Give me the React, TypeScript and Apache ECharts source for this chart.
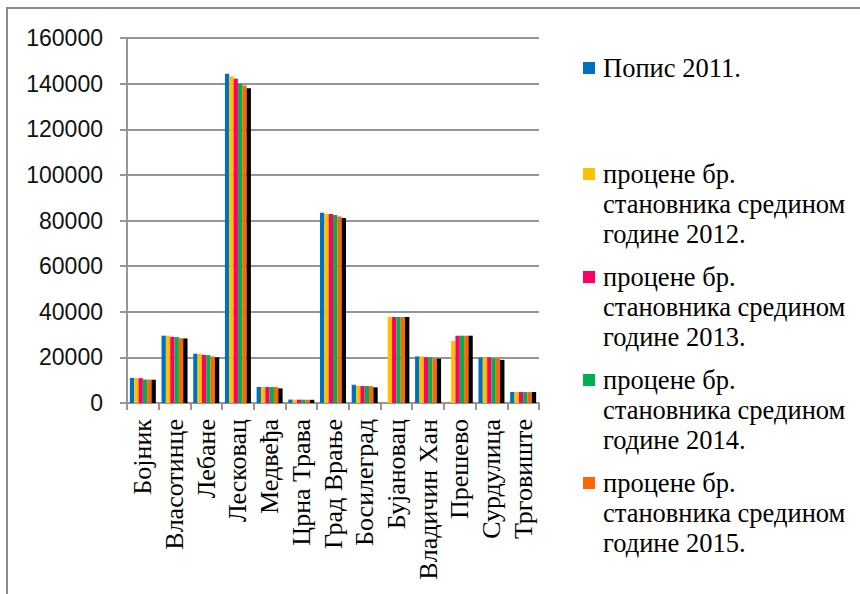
import React, { useEffect, useRef } from "react";
import * as echarts from "echarts";

const categories = [
  "Бојник", "Власотинце", "Лебане", "Лесковац", "Медвеђа", "Црна Трава",
  "Град Врање", "Босилеград", "Бујановац", "Владичин Хан", "Прешево",
  "Сурдулица", "Трговиште",
];

const seriesNames = [
  "Попис 2011.",
  "процене бр.\nстановника средином\nгодине 2012.",
  "процене бр.\nстановника средином\nгодине 2013.",
  "процене бр.\nстановника средином\nгодине 2014.",
  "процене бр.\nстановника средином\nгодине 2015.",
  "процене бр.\nстановника средином\nгодине 2016.",
];

const colors = ["#0070C0", "#FFC000", "#FF0066", "#00B050", "#FF6600", "#000000"];

const popis2011 = [11000, 29500, 21600, 144300, 7050, 1500, 83400, 8000, null, 20400, null, 19900, 4800];
const procena2012 = [10950, 29500, 21600, 143200, 7050, 1480, 82900, 7500, 37700, 20400, 27200, 19900, 4800];
const procena2013 = [10900, 29000, 21100, 142100, 7000, 1460, 82900, 7450, 37700, 20000, 29500, 19900, 4800];
const procena2014 = [10300, 28900, 21000, 140000, 7000, 1440, 82400, 7450, 37700, 20000, 29500, 19400, 4800];
const procena2015 = [10250, 28400, 20400, 139200, 7000, 1420, 81800, 7400, 37700, 19400, 29500, 19400, 4800];
const procena2016 = [10200, 28300, 20000, 138000, 6400, 1400, 81100, 6850, 37700, 19400, 29500, 18900, 4800];

const seriesData = [popis2011, procena2012, procena2013, procena2014, procena2015, procena2016];

const yTicks = { min: 0, max: 160000, interval: 20000 };

export default function App() {
  const ref = useRef<HTMLDivElement>(null);
  useEffect(() => {
    if (!ref.current) return;
    const chart = echarts.init(ref.current, null, { renderer: "svg" });
    const serif = "'Liberation Serif', 'Times New Roman', serif";
    const legendTops = [53, 99, 202, 305, 408];
    const legends = legendTops.map((top, i) => ({
      data: [seriesNames[i]],
      orient: "vertical",
      left: 583,
      top,
      padding: 0,
      itemWidth: 12,
      itemHeight: 12,
      icon: "rect",
      selectedMode: false,
      formatter: (name: string) => (i === 0 ? name : "\n\n" + name),
      textStyle: {
        fontFamily: serif,
        fontSize: 26.5,
        lineHeight: 30,
        color: "#000",
        padding: [0, 0, 0, 3],
      },
    }));
    chart.setOption({
      animation: false,
      backgroundColor: "#fff",
      color: colors,
      graphic: [
        {
          type: "rect",
          shape: { x: 7, y: 8, width: 900, height: 700 },
          style: { fill: "none", stroke: "#8c8c8c", lineWidth: 2 },
          silent: true,
        },
      ],
      legend: legends,
      grid: { left: 127, right: 321, top: 38, bottom: 191, containLabel: false },
      xAxis: {
        type: "category",
        data: categories,
        axisLine: { lineStyle: { color: "#969696", width: 2 } },
        axisTick: { show: true, length: 7, lineStyle: { color: "#969696", width: 2 } },
        axisLabel: {
          rotate: 90,
          interval: 0,
          margin: 16,
          fontFamily: serif,
          fontSize: 26,
          color: "#000",
        },
      },
      yAxis: {
        type: "value",
        min: yTicks.min,
        max: yTicks.max,
        interval: yTicks.interval,
        axisLine: { show: true, lineStyle: { color: "#969696", width: 2 } },
        axisTick: { show: true, length: 7, lineStyle: { color: "#969696", width: 2 } },
        splitLine: { show: true, lineStyle: { color: "#969696", width: 2 } },
        axisLabel: {
          margin: 24,
          fontFamily: "'Liberation Sans', Arial, sans-serif",
          fontSize: 23,
          color: "#111",
          formatter: (v: number) => String(v),
        },
      },
      series: seriesData.map((d, i) => ({
        name: seriesNames[i],
        type: "bar",
        data: d,
        barGap: "0%",
        barCategoryGap: "18%",
        itemStyle: { color: colors[i] },
      })),
    });
    return () => chart.dispose();
  }, []);
  return (
    <div
      ref={ref}
      style={{ position: "fixed", left: 0, top: 0, width: 860, height: 594, background: "#fff" }}
    />
  );
}
